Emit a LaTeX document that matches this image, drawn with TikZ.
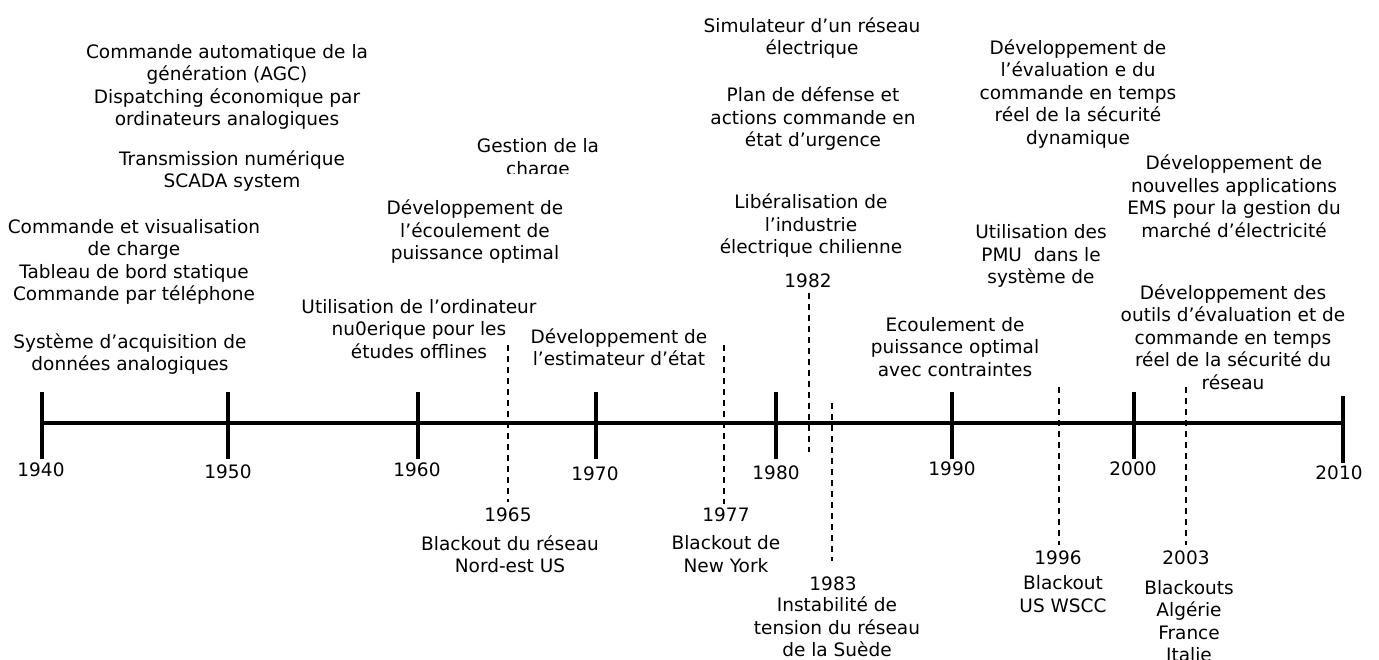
\documentclass[tikz,border=0pt]{standalone}
\usepackage{fontspec}
\newfontfamily\dvfont{DejaVu Sans}
\tikzset{
  txt/.style={font={\dvfont\fontsize{18.5}{22.5}\selectfont}, align=center, inner sep=0pt, text=black},
  axisline/.style={line width=4pt},
  tickline/.style={line width=3.4pt},
  dashline/.style={line width=1.5pt, dash pattern=on 6pt off 5pt},
}
\begin{document}
\begin{tikzpicture}[x=1pt,y=-1pt]
\useasboundingbox (0,0) rectangle (1379,659);
\clip (0,0) rectangle (1379,659);
% axis
\coordinate (ax0) at (42,423);
\coordinate (ax1) at (1343,423);
\draw[axisline] (ax0) -- (ax1);
% ticks
\foreach \n/\x in {t40/42,t50/228,t60/418,t70/596,t80/776,t90/952,t00/1134}{
  \coordinate (\n a) at (\x,392);
  \coordinate (\n b) at (\x,459);
  \draw[tickline] (\n a) -- (\n b);
}
\coordinate (t10a) at (1343,396);
\coordinate (t10b) at (1343,463);
\draw[tickline] (t10a) -- (t10b);
% tick labels
\node[txt] (y40) at (41,470) {1940};
\node[txt] (y50) at (228,472) {1950};
\node[txt] (y60) at (417,470) {1960};
\node[txt] (y70) at (595,474) {1970};
\node[txt] (y80) at (776,473) {1980};
\node[txt] (y90) at (952,469) {1990};
\node[txt] (y00) at (1133,469) {2000};
\node[txt] (y10) at (1339,473) {2010};
% dashed event lines
\coordinate (d65a) at (508,345); \coordinate (d65b) at (508,502);
\coordinate (d77a) at (724,345); \coordinate (d77b) at (724,504);
\coordinate (d82a) at (809,293); \coordinate (d82b) at (809,452);
\coordinate (d83a) at (832,403); \coordinate (d83b) at (832,561);
\coordinate (d96a) at (1059,387); \coordinate (d96b) at (1059,545);
\coordinate (d03a) at (1186,387); \coordinate (d03b) at (1186,545);
\draw[dashline] (d65a) -- (d65b);
\draw[dashline] (d77a) -- (d77b);
\draw[dashline] (d82a) -- (d82b);
\draw[dashline] (d83a) -- (d83b);
\draw[dashline] (d96a) -- (d96b);
\draw[dashline] (d03a) -- (d03b);
% upper texts
\node[txt] (agc) at (227,87) {Commande automatique de la\\génération (AGC)\\Dispatching économique par\\ordinateurs analogiques};
\node[txt] (scada) at (232,171) {Transmission numérique\\SCADA system};
\node[txt] (cvis) at (134,262) {Commande et visualisation\\de charge\\Tableau de bord statique\\Commande par téléphone};
\node[txt] (acq) at (130,354) {Système d’acquisition de\\données analogiques};
\node[txt] (ecopt) at (475,232) {Développement de\\l’écoulement de\\puissance optimal};
\node[txt] (ordi) at (419,329) {Utilisation de l’ordinateur\\nu0erique pour les\\études offlines};
\begin{scope}
\clip (470,120) rectangle (610,173);
\node[txt] (gest) at (538,159) {Gestion de la\\charge};
\end{scope}
\node[txt] (estim) at (619,347) {Développement de\\l’estimateur d’état};
\node[txt] (simu) at (812,38) {Simulateur d’un réseau\\électrique};
\node[txt] (plan) at (813,119) {Plan de défense et\\actions commande en\\état d’urgence};
\node[txt] (chili) at (811,226) {Libéralisation de\\l’industrie\\électrique chilienne};
\node[txt] (y82) at (808,281) {1982};
\node[txt] (ecc) at (955,347) {Ecoulement de\\puissance optimal\\avec contraintes};
\node[txt] (dyn) at (1078,94) {Développement de\\l’évaluation e du\\commande en temps\\réel de la sécurité\\dynamique};
\node[txt] (ems) at (1234,196) {Développement de\\nouvelles applications\\EMS pour la gestion du\\marché d’électricité};
\node[txt] (pmu) at (1041,256) {Utilisation des\\PMU~~dans le\\système de};
\node[txt] (outils) at (1233,337) {Développement des\\outils d’évaluation et de\\commande en temps\\réel de la sécurité du\\réseau};
% lower texts
\node[txt] (y65) at (508,515) {1965};
\node[txt] (b65) at (510,554) {Blackout du réseau\\Nord-est US};
\node[txt] (y77) at (726,515) {1977};
\node[txt] (b77) at (726,554) {Blackout de\\New York};
\node[txt] (y83) at (833,584) {1983};
\node[txt] (b83) at (837,627) {Instabilité de\\tension du réseau\\de la Suède};
\node[txt] (y96) at (1058,558) {1996};
\node[txt] (b96) at (1063,594) {Blackout\\US WSCC};
\node[txt] (y03) at (1186,558) {2003};
\node[txt] (b03) at (1189,621) {Blackouts\\Algérie\\France\\Italie};
\end{tikzpicture}
\end{document}
